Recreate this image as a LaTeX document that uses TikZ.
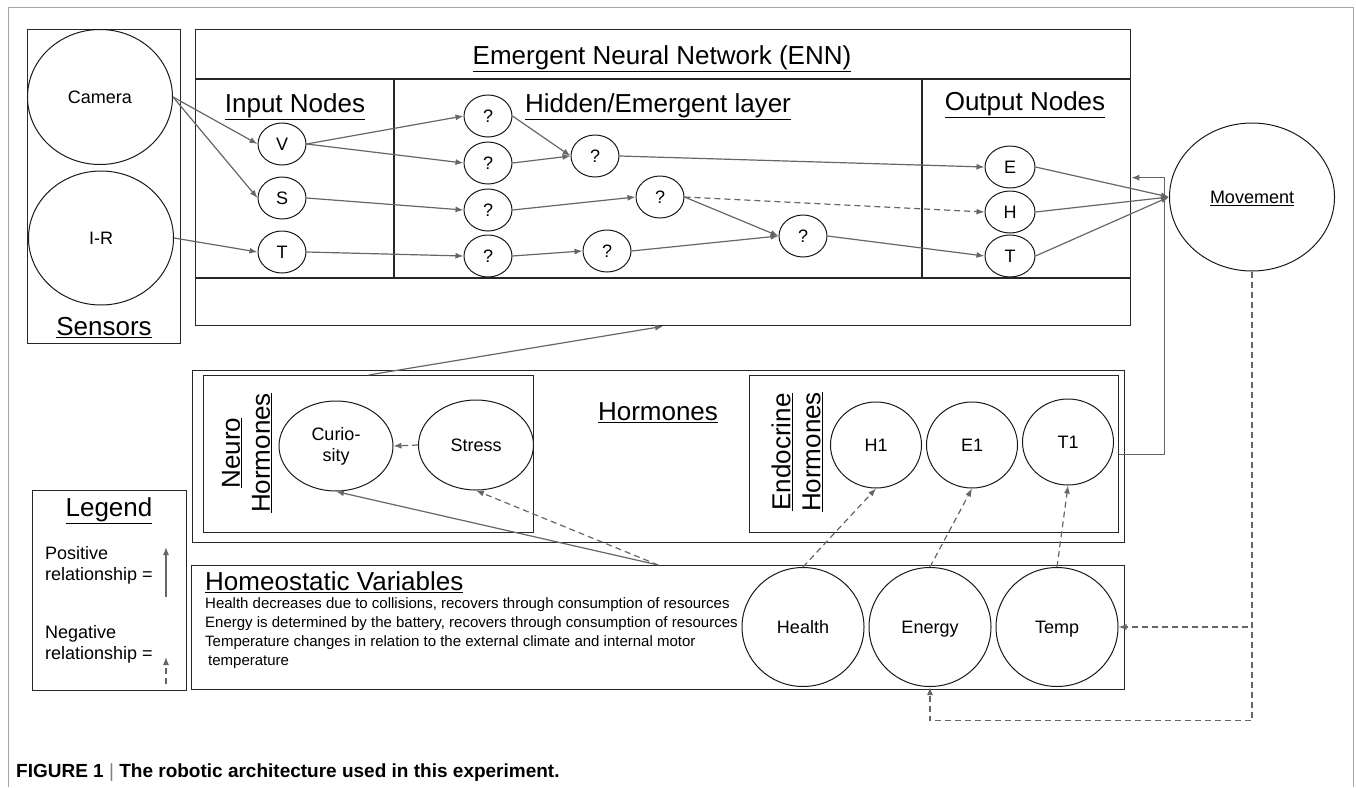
\documentclass[tikz,border=0pt]{standalone}
\usepackage{fontspec}
\setmainfont{Liberation Sans}
\usetikzlibrary{arrows.meta}
\usetikzlibrary{shapes.geometric}

\newcommand{\headsize}{\fontsize{26}{30}\selectfont}
\newcommand{\nodesize}{\fontsize{18}{21}\selectfont}
\newcommand{\notesize}{\fontsize{15}{19}\selectfont}

\begin{document}
\begin{tikzpicture}[x=1pt, y=-1pt,
  box/.style={draw=black!85, line width=1.3pt, inner sep=0, anchor=north west},
  ell/.style={draw=black!90, ellipse, line width=1pt, inner sep=0, font=\nodesize},
  circ/.style={ell, text height=13pt, text depth=0pt},
  small/.style={circ, minimum width=48, minimum height=42},
  head/.style={font=\headsize, inner sep=0},
  arr/.style={-{Latex[length=8pt,width=6pt]}, draw=black!60, line width=1.2pt},
  darr/.style={arr, dash pattern=on 6pt off 4pt}]

\useasboundingbox (0,0) rectangle (1356,787);
\draw[black!35, line width=1pt] (8,787) -- (8,7) -- (1353,7) -- (1353,787);

% sensors
\node[box, minimum width=153, minimum height=314] (sensbox) at (27,29) {};
\node[circ, minimum width=145, minimum height=135] (camera) at (100,97) {Camera};
\node[circ, minimum width=145, minimum height=134] (ir) at (101,238) {I-R};
\node[head] (senslbl) at (104,328) {\underline{Sensors}};

% neural network
\node[box, minimum width=935, minimum height=296] (enn) at (195,29) {};
\draw[black!85, line width=1.3pt] (195,79) -- (1130,79) (195,278) -- (1130,278)
  (394,79) -- (394,278) (922,79) -- (922,278);
\node[head] (ennlbl) at (662,59) {\underline{Emergent Neural Network (ENN)}};
\node[head] (inlbl) at (295,107) {\underline{Input Nodes}};
\node[head] (hidlbl) at (658,107) {\underline{Hidden/Emergent layer}};
\node[head] (outlbl) at (1025,105) {\underline{Output Nodes}};

\node[small] (v) at (282,144) {V};
\node[small] (s) at (282,198) {S};
\node[small] (t) at (282,252) {T};

\node[small] (q1) at (488,116) {?};
\node[small] (q2) at (488,163) {?};
\node[small] (q3) at (595,156) {?};
\node[small] (q4) at (488,210) {?};
\node[small] (q5) at (660,197) {?};
\node[small] (q6) at (488,256) {?};
\node[small] (q7) at (607,251) {?};
\node[small] (q8) at (803,236) {?};

\node[small, minimum width=50] (e) at (1010,167) {E};
\node[small, minimum width=50] (h) at (1010,212) {H};
\node[small, minimum width=50] (tout) at (1010,256) {T};

\node[circ, minimum width=165, minimum height=148] (move) at (1252,197) {\underline{Movement}};

\draw[arr] (camera.east) -- (v.west);
\draw[arr] (camera.east) -- (s.west);
\draw[arr] (ir.east) -- (t.west);
\draw[arr] (v.east) -- (q1.west);
\draw[arr] (v.east) -- (q2.west);
\draw[arr] (s.east) -- (q4.west);
\draw[arr] (t.east) -- (q6.west);
\draw[arr] (q1.east) -- (q3.west);
\draw[arr] (q2.east) -- (q3.west);
\draw[arr] (q4.east) -- (q5.west);
\draw[arr] (q6.east) -- (q7.west);
\draw[arr] (q5.east) -- (q8.west);
\draw[arr] (q7.east) -- (q8.west);
\draw[arr] (q3.east) -- (e.west);
\draw[darr] (q5.east) -- (h.west);
\draw[arr] (q8.east) -- (tout.west);
\draw[arr] (e.east) -- (move.west);
\draw[arr] (h.east) -- (move.west);
\draw[arr] (tout.east) -- (move.west);

% hormones
\node[box, minimum width=932, minimum height=172] (horm) at (192,370) {};
\node[box, minimum width=330, minimum height=157] (neuro) at (203,375) {};
\node[box, minimum width=369, minimum height=157] (endo) at (749,375) {};
\node[head] (hormlbl) at (658,413) {\underline{Hormones}};
\node[head, rotate=90, align=center] (neurolbl) at (247,453) {\underline{Neuro}\\\underline{Hormones}};
\node[head, rotate=90, align=center] (endolbl) at (797,452) {\underline{Endocrine}\\\underline{Hormones}};

\node[ell, minimum width=114, minimum height=90, align=center] (curio) at (336,446) {Curio-\\sity};
\node[circ, minimum width=115, minimum height=90] (stress) at (476,445) {Stress};
\node[circ, minimum width=91, minimum height=86] (h1) at (876,445) {H1};
\node[circ, minimum width=91, minimum height=86] (e1) at (972,445) {E1};
\node[circ, minimum width=91, minimum height=86] (t1) at (1068,442) {T1};

\draw[darr] (stress.west) -- (curio.east);
\draw[arr] (neuro.north) -- (enn.south);
\draw[arr] (endo.east) -- ++(45,0) |- (enn.east);

% legend
\node[box, minimum width=154, minimum height=200] (legend) at (32,490) {};
\node[head] (leglbl) at (109,511) {\underline{Legend}};
\node[anchor=west, align=left, font=\nodesize, inner sep=0] (postxt) at (45,565) {Positive\\relationship =};
\node[anchor=west, align=left, font=\nodesize, inner sep=0] (negtxt) at (45,644) {Negative\\relationship =};
\coordinate (posbot) at (166,597);
\coordinate (postop) at (166,547);
\coordinate (negbot) at (166,684);
\coordinate (negtop) at (166,657);
\draw[arr] (posbot) -- (postop);
\draw[darr] (negbot) -- (negtop);

% homeostatic variables
\node[box, minimum width=933, minimum height=124] (homeo) at (191,565) {};
\node[head, anchor=west] (homeolbl) at (205,582) {\underline{Homeostatic Variables}};
\node[anchor=north west, align=left, font=\notesize, inner sep=0] (homeotxt) at (205,597)
  {Health decreases due to collisions, recovers through consumption of resources\\
   Energy is determined by the battery, recovers through consumption of resources\\
   Temperature changes in relation to the external climate and internal motor\\
   \hspace{3pt}temperature};

\node[circ, minimum width=122, minimum height=119] (health) at (803,627) {Health};
\node[circ, minimum width=122, minimum height=119] (energy) at (930,627) {Energy};
\node[circ, minimum width=122, minimum height=119] (temp) at (1057,627) {Temp};

\draw[arr] (homeo.north) -- (curio.south);
\draw[darr] (homeo.north) -- (stress.south);
\draw[darr] (health.north) -- (h1.south);
\draw[darr] (energy.north) -- (e1.south);
\draw[darr] (temp.north) -- (t1.south);
\draw[darr] (move.south) |- (temp.east);
\draw[darr] (move.south) -- ++(0,449) -| (energy.south);

% caption
\node[anchor=west, inner sep=0, font=\bfseries\fontsize{19}{22}\selectfont] (caption) at (16,773)
  {FIGURE 1 {\mdseries\color{black!50}|} The robotic architecture used in this experiment.};
\end{tikzpicture}
\end{document}
